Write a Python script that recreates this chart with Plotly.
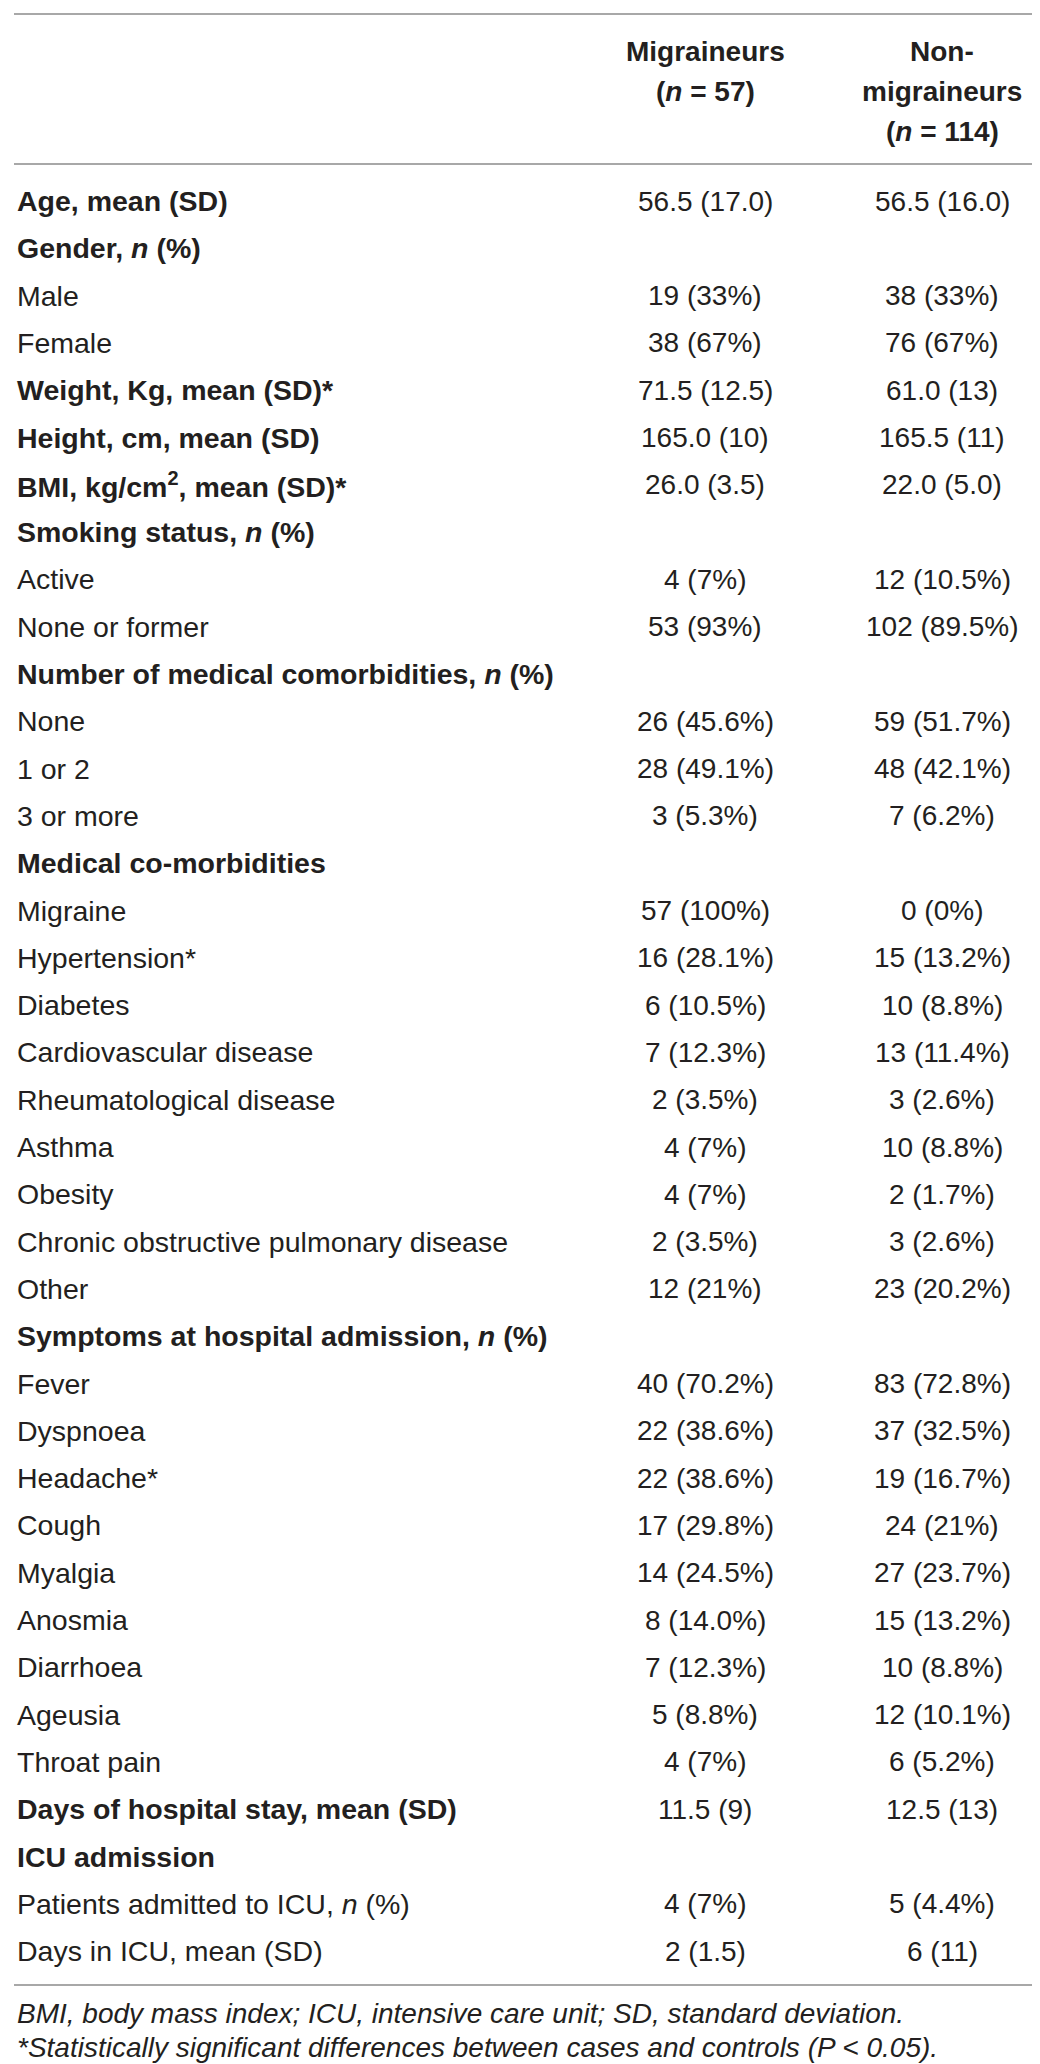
import plotly.graph_objects as go

W, H = 1040, 2064

# table content
row_labels = [
    "<b>Age, mean (SD)</b>",
    "<b>Gender, <i>n</i> (%)</b>",
    "Male",
    "Female",
    "<b>Weight, Kg, mean (SD)*</b>",
    "<b>Height, cm, mean (SD)</b>",
    "<b>BMI, kg/cm<sup>2</sup>, mean (SD)*</b>",
    "<b>Smoking status, <i>n</i> (%)</b>",
    "Active",
    "None or former",
    "<b>Number of medical comorbidities, <i>n</i> (%)</b>",
    "None",
    "1 or 2",
    "3 or more",
    "<b>Medical co-morbidities</b>",
    "Migraine",
    "Hypertension*",
    "Diabetes",
    "Cardiovascular disease",
    "Rheumatological disease",
    "Asthma",
    "Obesity",
    "Chronic obstructive pulmonary disease",
    "Other",
    "<b>Symptoms at hospital admission, <i>n</i> (%)</b>",
    "Fever",
    "Dyspnoea",
    "Headache*",
    "Cough",
    "Myalgia",
    "Anosmia",
    "Diarrhoea",
    "Ageusia",
    "Throat pain",
    "<b>Days of hospital stay, mean (SD)</b>",
    "<b>ICU admission</b>",
    "Patients admitted to ICU, <i>n</i> (%)",
    "Days in ICU, mean (SD)",
]

migraineurs = [
    "56.5 (17.0)", "", "19 (33%)", "38 (67%)", "71.5 (12.5)", "165.0 (10)",
    "26.0 (3.5)", "", "4 (7%)", "53 (93%)", "", "26 (45.6%)", "28 (49.1%)",
    "3 (5.3%)", "", "57 (100%)", "16 (28.1%)", "6 (10.5%)", "7 (12.3%)",
    "2 (3.5%)", "4 (7%)", "4 (7%)", "2 (3.5%)", "12 (21%)", "", "40 (70.2%)",
    "22 (38.6%)", "22 (38.6%)", "17 (29.8%)", "14 (24.5%)", "8 (14.0%)",
    "7 (12.3%)", "5 (8.8%)", "4 (7%)", "11.5 (9)", "", "4 (7%)", "2 (1.5)",
]

non_migraineurs = [
    "56.5 (16.0)", "", "38 (33%)", "76 (67%)", "61.0 (13)", "165.5 (11)",
    "22.0 (5.0)", "", "12 (10.5%)", "102 (89.5%)", "", "59 (51.7%)",
    "48 (42.1%)", "7 (6.2%)", "", "0 (0%)", "15 (13.2%)", "10 (8.8%)",
    "13 (11.4%)", "3 (2.6%)", "10 (8.8%)", "2 (1.7%)", "3 (2.6%)",
    "23 (20.2%)", "", "83 (72.8%)", "37 (32.5%)", "19 (16.7%)", "24 (21%)",
    "27 (23.7%)", "15 (13.2%)", "10 (8.8%)", "12 (10.1%)", "6 (5.2%)",
    "12.5 (13)", "", "5 (4.4%)", "6 (11)",
]

header_mig = ["<b>Migraineurs</b>", "<b>(<i>n</i> = 57)</b>"]
header_non = ["<b>Non-</b>", "<b>migraineurs</b>", "<b>(<i>n</i> = 114)</b>"]

footnotes = [
    "<i>BMI, body mass index; ICU, intensive care unit; SD, standard deviation.</i>",
    "<i>*Statistically significant differences between cases and controls (P &lt; 0.05).</i>",
]

TXT = "#231f20"
RULE = "#a8a8a8"
FONT = "Liberation Sans, Arial, sans-serif"
FS_LABEL = 28.5
FS_VALUE = 28

x_label, x_mig, x_non = 7, 697, 934
y_first, pitch = 193, 47.3
y_head0, head_pitch = 43, 40

fig = go.Figure()
ann = []


def add(x, y, text, anchor="left", size=FS_VALUE):
    ann.append(dict(x=x, y=y, xref="x", yref="y", text=text, showarrow=False,
                    xanchor=anchor, yanchor="middle",
                    font=dict(family=FONT, size=size, color=TXT)))


for j, t in enumerate(header_mig):
    add(x_mig, y_head0 + j * head_pitch, t, "center")
for j, t in enumerate(header_non):
    add(x_non, y_head0 + j * head_pitch, t, "center")

for i, (lab, a, b) in enumerate(zip(row_labels, migraineurs, non_migraineurs)):
    y = y_first + i * pitch
    add(x_label, y, lab, size=FS_LABEL)
    if a:
        add(x_mig, y, a, "center")
    if b:
        add(x_non, y, b, "center")

add(x_label, 2005, footnotes[0], size=28)
add(x_label, 2039, footnotes[1], size=28)

for y in (6, 156, 1977):
    fig.add_shape(type="line", x0=6, x1=1035, y0=y, y1=y, xref="x", yref="y",
                  line=dict(color=RULE, width=2))

fig.update_layout(
    width=W, height=H,
    margin=dict(l=0, r=0, t=0, b=0),
    paper_bgcolor="white", plot_bgcolor="white",
    annotations=ann,
    showlegend=False,
)
fig.update_xaxes(range=[0, W], visible=False, fixedrange=True)
fig.update_yaxes(range=[H, 0], visible=False, fixedrange=True)

fig.write_html("out.html")
